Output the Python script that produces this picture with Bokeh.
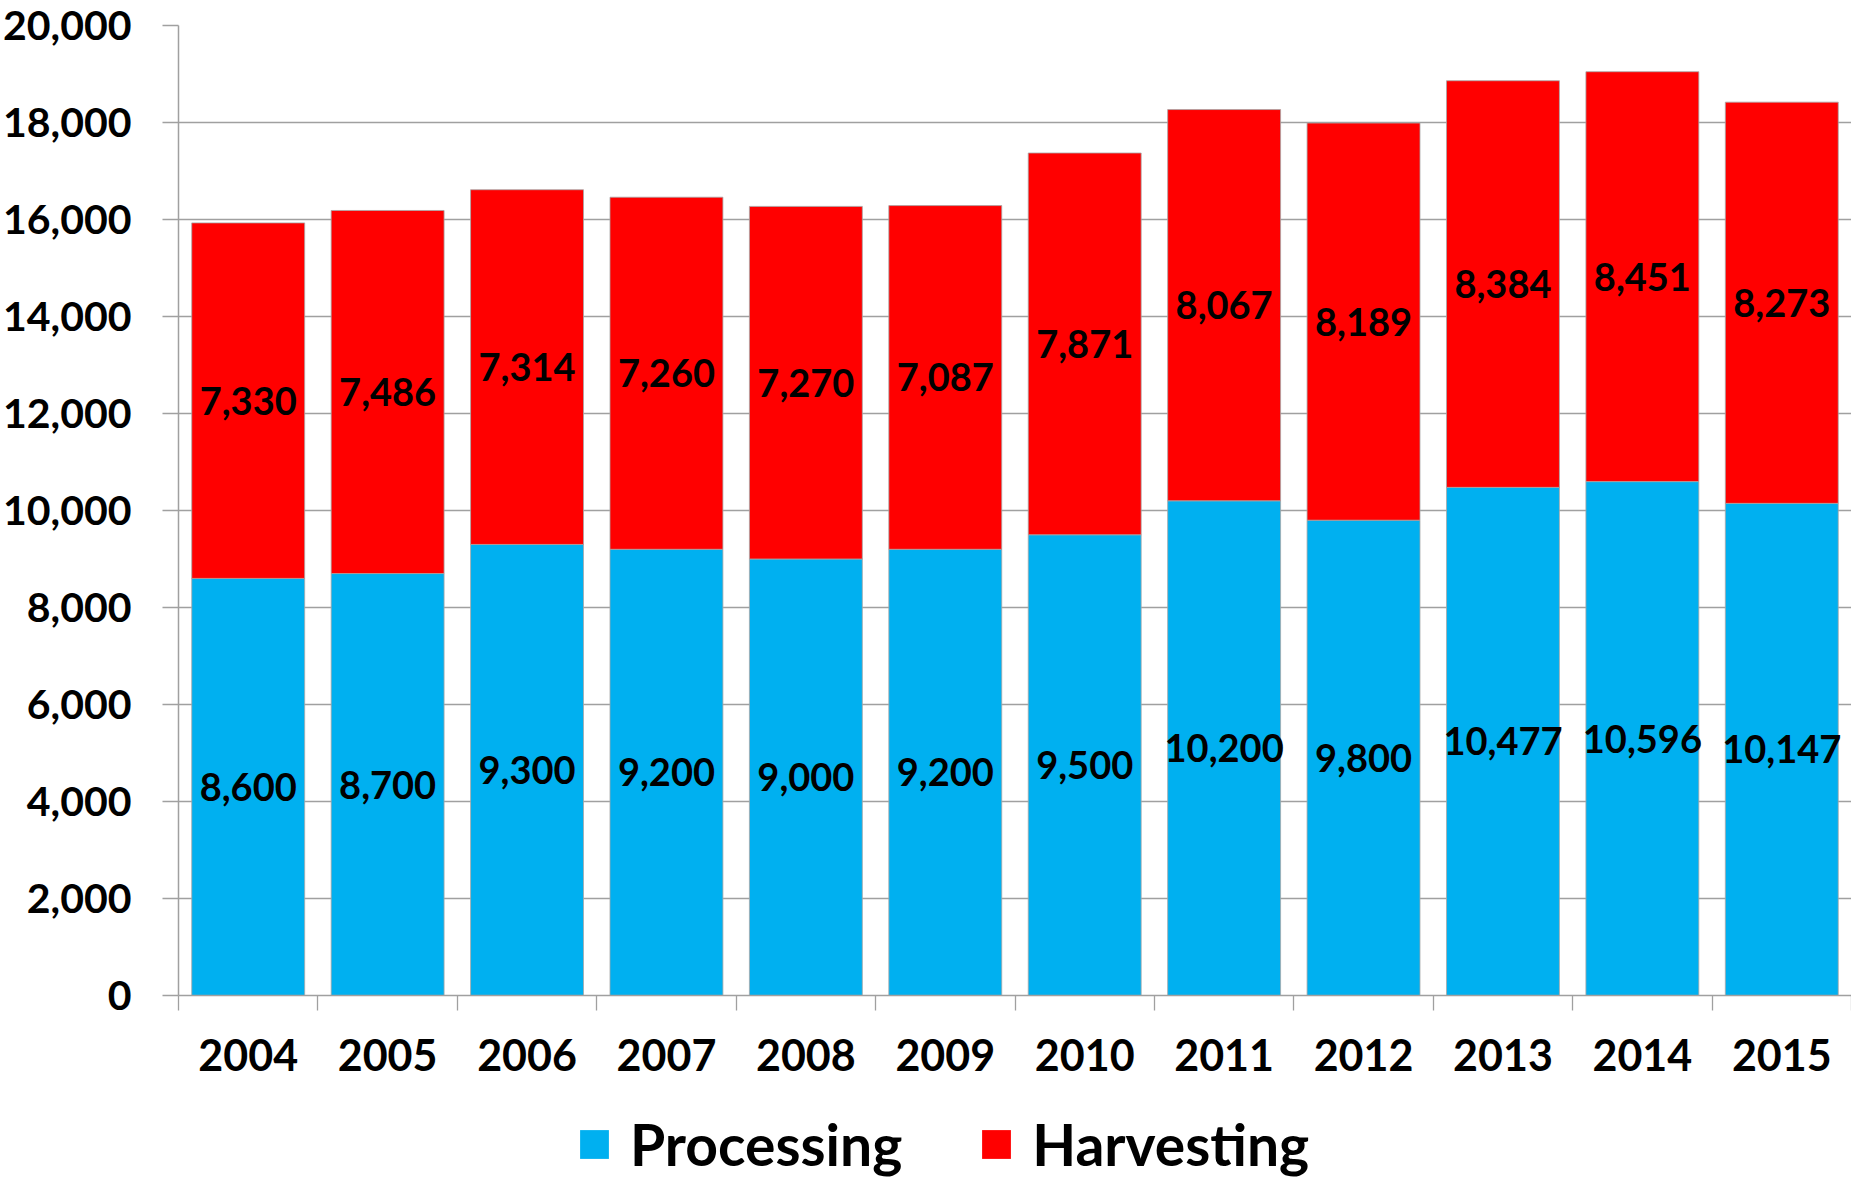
from bokeh.plotting import figure
from bokeh.layouts import column
from bokeh.models import (Range1d, FixedTicker, NumeralTickFormatter, Legend, LegendItem,
                          ColumnDataSource)
from bokeh.core.properties import value
from bokeh.embed import file_html
from bokeh.resources import INLINE

years = ["2004", "2005", "2006", "2007", "2008", "2009", "2010", "2011", "2012", "2013", "2014", "2015"]
processing = [8600, 8700, 9300, 9200, 9000, 9200, 9500, 10200, 9800, 10477, 10596, 10147]
harvesting = [7330, 7486, 7314, 7260, 7270, 7087, 7871, 8067, 8189, 8384, 8451, 8273]
series = ["Processing", "Harvesting"]
y_ticks = list(range(0, 20001, 2000))

FONT = "Lato"
BLUE = "#00B0F0"
RED = "#FF0000"
GRAY = "#A0A0A0"
W = 1851

xs = list(range(len(years)))
src = ColumnDataSource(dict(
    x=xs,
    Processing=processing,
    Harvesting=harvesting,
    p_mid=[p / 2 for p in processing],
    h_mid=[p + h / 2 for p, h in zip(processing, harvesting)],
    p_lab=[f"{v:,}" for v in processing],
    h_lab=[f"{v:,}" for v in harvesting],
))

p = figure(width=W, height=1090, output_backend="svg", toolbar_location=None,
           x_range=Range1d(-0.5, len(years) - 0.5), y_range=Range1d(0, 20000),
           min_border_left=175, min_border_right=0, min_border_top=25, min_border_bottom=95)
p.outline_line_color = None

rs = p.vbar_stack(series, x="x", width=0.81, source=src,
                  color=[BLUE, RED], line_color="#A8A8A8", line_width=1, line_alpha=0.8)

p.text(x="x", y="p_mid", text="p_lab", source=src, text_font=value(FONT), text_font_style="bold",
       text_font_size="38px", text_align="center", text_baseline="middle", text_color="black")
p.text(x="x", y="h_mid", text="h_lab", source=src, text_font=value(FONT), text_font_style="bold",
       text_font_size="38px", text_align="center", text_baseline="middle", text_color="black")

# axes
p.xgrid.visible = False
p.ygrid.grid_line_color = GRAY
p.ygrid.grid_line_width = 1.3
p.yaxis.ticker = FixedTicker(ticks=y_ticks)
p.yaxis.formatter = NumeralTickFormatter(format="0,0")
p.yaxis.axis_line_color = GRAY
p.yaxis.axis_line_width = 1.5
p.yaxis.major_tick_line_color = GRAY
p.yaxis.major_tick_line_width = 1.3
p.yaxis.major_tick_out = 16
p.yaxis.major_tick_in = 0
p.yaxis.minor_tick_line_color = None
p.yaxis.major_label_standoff = 31
p.yaxis.major_label_text_font = FONT
p.yaxis.major_label_text_font_style = "bold"
p.yaxis.major_label_text_font_size = "41px"
p.yaxis.major_label_text_color = "black"

p.xaxis.ticker = FixedTicker(ticks=xs, minor_ticks=[i - 0.5 for i in range(len(years) + 1)])
p.xaxis.major_label_overrides = {i: y for i, y in zip(xs, years)}
p.xaxis.axis_line_color = GRAY
p.xaxis.axis_line_width = 1.5
p.xaxis.major_tick_line_color = None
p.xaxis.major_tick_out = 0
p.xaxis.major_tick_in = 0
p.xaxis.minor_tick_line_color = GRAY
p.xaxis.minor_tick_line_width = 1.3
p.xaxis.minor_tick_out = 15
p.xaxis.minor_tick_in = 0
p.xaxis.major_label_standoff = 28
p.xaxis.major_label_text_font = FONT
p.xaxis.major_label_text_font_style = "bold"
p.xaxis.major_label_text_font_size = "43px"
p.xaxis.major_label_text_color = "black"

# legend strip below the chart
q = figure(width=W, height=92, output_backend="svg", toolbar_location=None,
           x_range=Range1d(0, 1), y_range=Range1d(0, 1), x_axis_type=None, y_axis_type=None,
           min_border_left=0, min_border_right=0, min_border_top=0, min_border_bottom=0)
q.outline_line_color = None
q.xgrid.visible = False
q.ygrid.visible = False
lr = [q.vbar(x=[5], top=[1], width=0.5, fill_color=c, line_color=None) for c in (BLUE, RED)]
legend = Legend(items=[LegendItem(label=s, renderers=[r]) for s, r in zip(series, lr)],
                orientation="horizontal", location=(398, 4),
                glyph_width=36, glyph_height=36, label_standoff=18, spacing=76,
                padding=0, margin=0, border_line_color=None, background_fill_alpha=0,
                label_text_font=FONT, label_text_font_style="bold",
                label_text_font_size="57px", label_text_color="black")
q.add_layout(legend, "center")

layout = column(p, q, spacing=0)
open("out.html", "w").write(file_html(layout, INLINE))
